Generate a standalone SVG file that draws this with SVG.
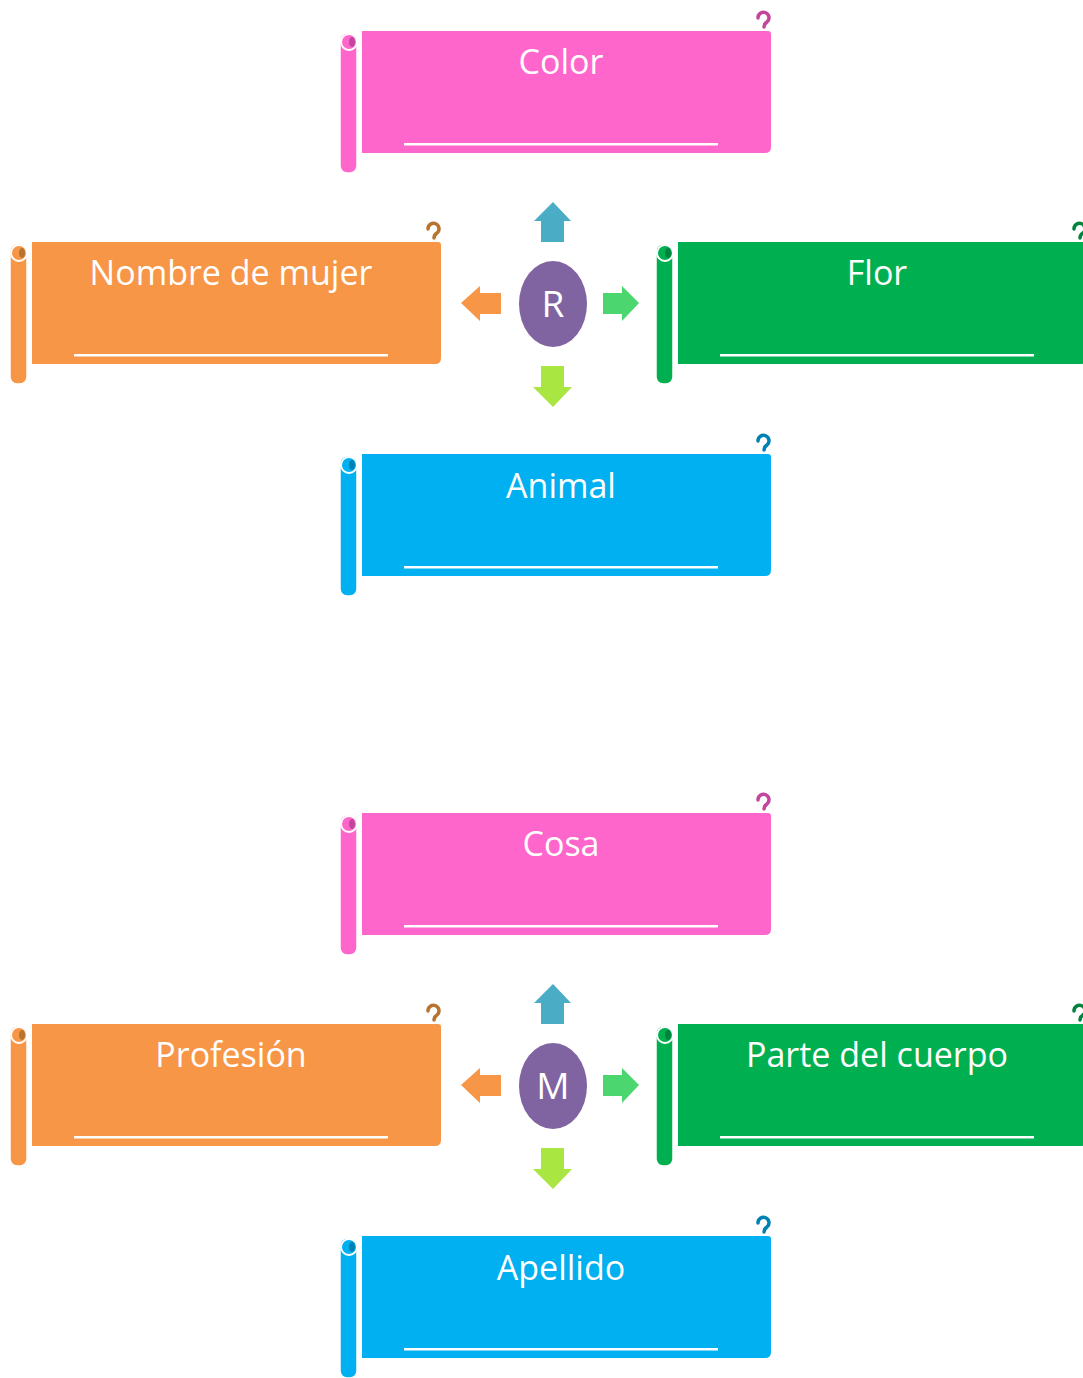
<svg xmlns="http://www.w3.org/2000/svg" width="1083" height="1378" viewBox="0 0 1083 1378">
<style>
.t{font-family:"Open Sans","Liberation Sans",sans-serif;font-size:34px;fill:#fff;text-anchor:middle}
.c{font-family:"Open Sans","Liberation Sans",sans-serif;font-size:37px;fill:#fff;text-anchor:middle}
.ul{fill:#fff}
.f{fill:var(--c)}
.d{fill:var(--d)}
.roll{stroke:#fff;stroke-width:1.5}
.loop{stroke:#fff;stroke-width:2}
.curl{fill:none;stroke:var(--d);stroke-width:3.5;stroke-linecap:round}
.pink{--c:#ff66cc;--d:#c2469d}
.orange{--c:#f79646;--d:#b8732f}
.green{--c:#00b050;--d:#00843c}
.blue{--c:#00b0f0;--d:#0081b3}
.oval{fill:#8064a2}
</style>
<defs>
<g id="scroll">
<path class="f" d="M362,31 H768 Q771,31 771,34 V147 Q771,153 765,153 H362 Z"/>
<rect class="f roll" x="340" y="33" width="17" height="140" rx="7"/>
<circle class="f loop" cx="349" cy="42" r="8"/>
<ellipse class="d" cx="352" cy="42" rx="3" ry="5"/>
<path class="curl" d="M758,18 A5.5,5.5 0 1 1 767,22 Q764,24 764,27"/>
<rect class="ul" x="404" y="143" width="314" height="2.5"/>
</g>
</defs>
<g id="node-color" class="pink"><use href="#scroll"/><text class="t" x="561" y="74">Color</text></g>
<g id="node-nombre" class="orange" transform="translate(-330,211)"><use href="#scroll"/><text class="t" x="561" y="74">Nombre de mujer</text></g>
<g id="node-flor" class="green" transform="translate(316,211)"><use href="#scroll"/><text class="t" x="561" y="74">Flor</text></g>
<g id="node-animal" class="blue" transform="translate(0,423)"><use href="#scroll"/><text class="t" x="561" y="75">Animal</text></g>
<g id="node-cosa" class="pink" transform="translate(0,782)"><use href="#scroll"/><text class="t" x="561" y="74">Cosa</text></g>
<g id="node-profesion" class="orange" transform="translate(-330,993)"><use href="#scroll"/><text class="t" x="561" y="74">Profesión</text></g>
<g id="node-parte" class="green" transform="translate(316,993)"><use href="#scroll"/><text class="t" x="561" y="74">Parte del cuerpo</text></g>
<g id="node-apellido" class="blue" transform="translate(0,1205)"><use href="#scroll"/><text class="t" x="561" y="75">Apellido</text></g>
<g id="node-r"><ellipse class="oval" cx="553" cy="304" rx="34" ry="43"/><text class="c" x="553" y="317">R</text></g>
<g id="node-m"><ellipse class="oval" cx="553" cy="1086" rx="34" ry="43"/><text class="c" x="553" y="1099">M</text></g>
<g id="connectors">
<g id="arrows-r">
<path fill="#4bacc6" d="M553,202 L571,221 L564,221 L564,242 L541,242 L541,221 L534,221 Z"/>
<path fill="#f79646" d="M461,303 L480,286 L480,293 L501,293 L501,314 L480,314 L480,321 Z"/>
<path fill="#4bd66f" d="M639,303 L622,286 L622,293 L603,293 L603,314 L622,314 L622,321 Z"/>
<path fill="#a9e642" d="M553,407 L572,387 L564,387 L564,366 L541,366 L541,387 L533,387 Z"/>
</g>
<g id="arrows-m" transform="translate(0,782)">
<path fill="#4bacc6" d="M553,202 L571,221 L564,221 L564,242 L541,242 L541,221 L534,221 Z"/>
<path fill="#f79646" d="M461,303 L480,286 L480,293 L501,293 L501,314 L480,314 L480,321 Z"/>
<path fill="#4bd66f" d="M639,303 L622,286 L622,293 L603,293 L603,314 L622,314 L622,321 Z"/>
<path fill="#a9e642" d="M553,407 L572,387 L564,387 L564,366 L541,366 L541,387 L533,387 Z"/>
</g>
</g>
</svg>
